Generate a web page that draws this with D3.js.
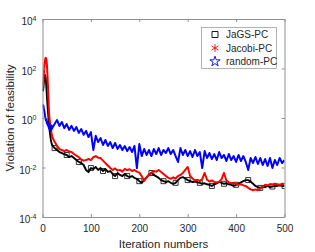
<!DOCTYPE html>
<html>
<head>
<meta charset="utf-8">
<script src="https://cdn.jsdelivr.net/npm/d3@7"></script>
<style>
  body { margin: 0; background: #fff; }
  svg { display: block; font-family: "Liberation Sans", Arial, sans-serif; }
</style>
</head>
<body>
<div id="chart"></div>
<script>
// iteration numbers shared by all three curves
var iters = [1, 2, 3, 4, 5, 6, 7, 8, 9, 10, 11, 12, 13, 14, 15, 16, 17, 18, 19, 20,
  25, 30, 35, 40, 45, 50, 55, 60, 65, 70, 75, 80, 85, 90, 95, 100,
  105, 110, 115, 120, 125, 130, 135, 140, 145, 150, 155, 160, 165, 170, 175, 180, 185, 190, 195, 200,
  205, 210, 215, 220, 225, 230, 235, 240, 245, 250, 255, 260, 265, 270, 275, 280, 285, 290, 295, 300,
  305, 310, 315, 320, 325, 330, 335, 340, 345, 350, 355, 360, 365, 370, 375, 380, 385, 390, 395, 400,
  405, 410, 415, 420, 425, 430, 435, 440, 445, 450, 455, 460, 465, 470, 475, 480, 485, 490, 495, 500];

var jagsPC = [12, 18, 30, 45, 55, 50, 35, 18, 8, 4, 2.2, 1.2, 0.6, 0.4, 0.28, 0.2, 0.14, 0.11, 0.09, 0.08,
  .061, .051, .042, .0385, .035, .032, .0265, .029, .0242, .020, .0167, .0152, .0126, .0079, .0065, .0095,
  .0087, .0105, .0079, .0095, .0072, .0087, .0066, .0072, .0055, .0045, .0060, .0050, .0045, .0055, .0045, .0041, .0045, .0038, .0035, .0028,
  .0024, .0031, .0040, .0052, .0060, .0050, .0044, .0038, .0031, .0028, .0026, .0028, .0024, .0022, .0024, .0031, .0038, .0041, .0036, .0031,
  .0028, .0026, .0027, .0025, .0024, .0022, .0023, .0021, .0020, .0018, .0021, .0023, .0026, .0024, .0022, .0023, .0021, .0020, .0018, .0020,
  .0022, .0025, .0028, .0031, .0031, .0027, .0022, .0018, .0016, .0015, .0017, .0016, .0018, .0016, .0017, .0018, .0018, .0019, .0018, .0018];

var jacobiPC = [20, 35, 70, 130, 200, 260, 270, 230, 150, 70, 25, 8, 2.5, 1.2, 0.8, 0.55, 0.4, 0.3, 0.22, 0.17,
  .11, .075, .055, .051, .046, .051, .044, .042, .035, .030, .026, .021, .019, .020, .022, .020,
  .026, .029, .025, .024, .019, .015, .012, .0095, .0079, .0092, .0075, .0080, .0068, .0088, .0079, .0085, .0072, .0079, .0068, .0062,
  .0045, .0029, .0040, .0050, .0062, .0072, .0068, .0079, .0066, .0055, .0045, .0038, .0035, .0040, .0036, .0045, .0050, .0060, .0080, .0105,
  .0045, .0036, .0030, .0032, .0028, .0034, .0060, .0032, .0027, .0030, .0026, .0025, .0027, .0034, .0060, .0030, .0025, .0023, .0024, .0022,
  .0020, .0021, .0019, .0018, .0015, .0013, .0012, .0013, .0012, .0014, .0017, .0020, .0019, .0021, .0020, .0022, .0021, .0020, .0022, .0021];

var randomPC = [3.5, 3.0, 2.2, 1.8, 1.3, 1.0, 0.8, 0.9, 0.6, 0.7, 0.5, 0.55, 0.4, 0.6, 0.35, 0.45, 0.3, 0.5, 0.35, 0.4,
  .57, .83, .48, .69, .39, .57, .33, .48, .30, .43, .25, .36, .21, .30, .17, .27,
  .051, .19, .107, .155, .081, .129, .074, .107, .061, .098, .056, .081, .051, .074, .046, .067, .042, .074, .0095, .089,
  .029, .056, .032, .051, .029, .056, .035, .061, .032, .051, .0385, .061, .035, .051, .029, .0167, .061, .032, .051, .029,
  .046, .0265, .051, .029, .042, .0095, .046, .0242, .0385, .022, .035, .020, .042, .0242, .032, .0183, .035, .020, .029, .0167,
  .032, .0183, .029, .0167, .0079, .0242, .0152, .0265, .0138, .0242, .0126, .022, .0115, .0242, .0095, .020, .0126, .0242, .0152, .020];

var seriesNames = ["JaGS-PC", "Jacobi-PC", "random-PC"];
var xTicks = [0, 100, 200, 300, 400, 500];
var yTickExps = [-4, -2, 0, 2, 4];

var W = 315, H = 252;
var margin = { top: 19, right: 30.5, bottom: 35, left: 42.5 };
var width = W - margin.left - margin.right;
var height = H - margin.top - margin.bottom;

var svg = d3.select("#chart").append("svg").attr("width", W).attr("height", H);
var g = svg.append("g").attr("transform", `translate(${margin.left},${margin.top})`);

var x = d3.scaleLinear().domain([0, 500]).range([0, width]);
var y = d3.scaleLog().domain([1e-4, 1e4]).range([height, 0]);

var axisColor = "#8f8f8f";
var textColor = "#262626";

g.append("defs").append("clipPath").attr("id", "clip")
  .append("rect").attr("width", width).attr("height", height);

var series = [
  { name: seriesNames[0], values: jagsPC, color: "#000000", width: 1.9, marker: "square", every: 25 },
  { name: seriesNames[1], values: jacobiPC, color: "#ff0000", width: 2, marker: "asterisk", every: 0 },
  { name: seriesNames[2], values: randomPC, color: "#0000ff", width: 2, marker: "star", every: 0 }
];

var line = d3.line()
  .x((d) => x(d[0]))
  .y((d) => y(d[1]));

var plot = g.append("g").attr("clip-path", "url(#clip)");

function markerPath(type, s) {
  if (type === "square") return d3.symbol(d3.symbolSquare, s * s)();
  if (type === "star") return d3.symbol(d3.symbolStar, s * s * 0.9)();
  return d3.symbol(d3.symbolAsterisk, s * s * 1.2)();
}

series.forEach(function (s) {
  var pts = iters.map((it, i) => [it, s.values[i]]);
  plot.append("path")
    .datum(pts)
    .attr("fill", "none")
    .attr("stroke", s.color)
    .attr("stroke-width", s.width)
    .attr("stroke-linejoin", "round")
    .attr("d", line);

  if (!s.every) return;
  // markers every 25 iterations
  plot.selectAll(null)
    .data(pts.filter((d) => d[0] % s.every === 0))
    .join("path")
    .attr("transform", (d) => `translate(${x(d[0])},${y(d[1])})`)
    .attr("d", markerPath(s.marker, 5))
    .attr("fill", "none")
    .attr("stroke", s.color)
    .attr("stroke-width", 0.8);
});

// axes (box with inward ticks)
function styleAxis(sel) {
  sel.select(".domain").attr("stroke", axisColor);
  sel.selectAll(".tick line").attr("stroke", axisColor);
  sel.selectAll(".tick text").attr("fill", textColor);
}

var yTickVals = yTickExps.map((e) => Math.pow(10, e));

var gx = g.append("g").attr("transform", `translate(0,${height})`)
  .call(d3.axisBottom(x).tickValues(xTicks).tickSizeInner(-3).tickSizeOuter(0).tickPadding(8))
  .call(styleAxis);
gx.selectAll(".tick text").attr("font-size", 10);

g.append("g")
  .call(d3.axisTop(x).tickValues(xTicks).tickSizeInner(-3).tickSizeOuter(0).tickFormat(""))
  .call(styleAxis);

g.append("g").attr("transform", `translate(${width},0)`)
  .call(d3.axisRight(y).tickValues(yTickVals).tickSizeInner(-3).tickSizeOuter(0).tickFormat(""))
  .call(styleAxis);

var gy = g.append("g")
  .call(d3.axisLeft(y).tickValues(yTickVals).tickSizeInner(-3).tickSizeOuter(0).tickPadding(6).tickFormat(""))
  .call(styleAxis);

gy.selectAll(".tick text").each(function (d) {
  var t = d3.select(this).attr("font-size", 10).attr("dy", "0.55em");
  t.append("tspan").text("10");
  t.append("tspan").attr("dy", "-0.55em").attr("font-size", 7).text(Math.round(Math.log10(d)));
});

// axis titles
g.append("text")
  .attr("x", width / 2)
  .attr("y", height + 31)
  .attr("text-anchor", "middle")
  .attr("font-size", 11.5)
  .attr("fill", textColor)
  .text("Iteration numbers");

g.append("text")
  .attr("transform", `translate(${-29},${height / 2}) rotate(-90)`)
  .attr("text-anchor", "middle")
  .attr("font-size", 11.5)
  .attr("fill", textColor)
  .text("Violation of feasibility");

// legend
var lg = g.append("g").attr("transform", `translate(${201 - margin.left},${27 - margin.top})`);
lg.append("rect")
  .attr("x", 0.5).attr("y", 0.5)
  .attr("width", 75).attr("height", 41)
  .attr("fill", "#fff")
  .attr("stroke", "#a0a0a0")
  .attr("stroke-width", 0.8);

series.forEach(function (s, i) {
  var yy = 7.5 + i * 13.5;
  lg.append("path")
    .attr("transform", `translate(14,${yy})`)
    .attr("d", markerPath(s.marker, 6))
    .attr("fill", "none")
    .attr("stroke", s.color)
    .attr("stroke-width", 0.9);
  lg.append("text")
    .attr("x", 25)
    .attr("y", yy)
    .attr("dy", "0.35em")
    .attr("font-size", 10)
    .attr("fill", textColor)
    .text(s.name);
});
</script>
</body>
</html>
